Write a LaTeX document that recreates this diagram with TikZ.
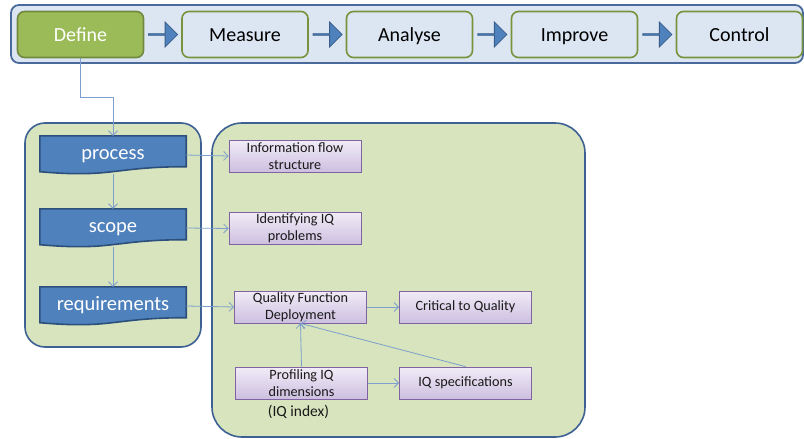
\documentclass[tikz,border=0pt]{standalone}
\usepackage{fontspec}
\setmainfont{Carlito}
\usetikzlibrary{calc,arrows.meta,shapes.arrows}

\definecolor{barfill}{HTML}{DCE6F2}
\definecolor{barline}{HTML}{4A6A9B}
\definecolor{defgreen}{HTML}{9BBB59}
\definecolor{defline}{HTML}{71893F}
\definecolor{stageline}{HTML}{77933C}
\definecolor{docblue}{HTML}{4F81BD}
\definecolor{docline}{HTML}{2C4F7C}
\definecolor{arrline}{HTML}{385D8A}
\definecolor{panelfill}{HTML}{D7E4BD}
\definecolor{panelline}{HTML}{3E6193}
\definecolor{lilactop}{HTML}{F1ECF7}
\definecolor{lilacbot}{HTML}{CDBFE0}
\definecolor{lilacline}{HTML}{8064A2}
\definecolor{linkblue}{HTML}{7C9FCB}

% document-like flowchart box: frame node, wavy fill, then the label
\newcommand\docbox[3]{%
  \node[docframe] (#1) at (#2) {};
  \filldraw[docpath] (#1.north west) -- (#1.north east) -- ([yshift=7.5pt]#1.south east)
    .. controls ([yshift=7.5pt]#1.south) and ([yshift=-4pt]#1.south) .. ([yshift=2.5pt]#1.south west) -- cycle;
  \node[doctext] (#1-label) at (#1.center) {#3};}

\begin{document}
\begin{tikzpicture}[x=1pt, y=-1pt,
    stage/.style={draw=stageline, line width=1.6pt, fill=barfill, rounded corners=7pt,
                  minimum width=126pt, minimum height=46pt, text height=18pt, text depth=3.6pt,
                  font=\fontsize{20}{24}\selectfont},
    firststage/.style={stage, fill=defgreen, draw=defline, text=white},
    blockarrow/.style={single arrow, fill=docblue, draw=arrline, line width=0.8pt,
                  minimum height=29pt, minimum width=25pt, inner sep=0pt, single arrow head extend=6pt},
    panel/.style={draw=panelline, line width=1.6pt, fill=panelfill},
    docframe/.style={minimum width=146pt, minimum height=38pt, inner sep=0pt},
    docpath/.style={fill=docblue, draw=docline, line width=1.6pt},
    doctext/.style={text=white, font=\fontsize{20.5}{24}\selectfont, inner sep=0pt,
                  text height=12pt, text depth=4pt},
    task/.style={draw=lilacline, line width=0.8pt, top color=lilactop, bottom color=lilacbot,
                 minimum width=132pt, minimum height=32pt, inner sep=1pt, align=center,
                 text=black!90, font=\fontsize{14.2}{16.7}\selectfont},
    link/.style={draw=linkblue, line width=0.8pt, -{Straight Barb[length=4.5pt,width=9pt]}}]
  \useasboundingbox (0,0) rectangle (804,439);

  % DMAIC bar
  \draw[draw=barline, fill=barfill, line width=1.8pt, rounded corners=8pt] (11,5) rectangle (803,63);
  \node[firststage] (define)  at (80.5,34.5)  {Define};
  \node[stage]      (measure) at (245,34.5)   {Measure};
  \node[stage]      (analyse) at (409.5,34.5) {Analyse};
  \node[stage]      (improve) at (574.5,34.5) {Improve};
  \node[stage]      (control) at (739.5,34.5) {Control};
  \node[blockarrow] (a1) at ($(define.east)!.5!(measure.west)$)  {};
  \node[blockarrow] (a2) at ($(measure.east)!.5!(analyse.west)$) {};
  \node[blockarrow] (a3) at ($(analyse.east)!.5!(improve.west)$) {};
  \node[blockarrow] (a4) at ($(improve.east)!.5!(control.west)$) {};

  % Define phase panels
  \draw[panel, rounded corners=20pt] (25,123) rectangle (201,347);
  \draw[panel, rounded corners=30pt] (212,123) rectangle (585,437);

  \docbox{process}{113,155}{process}
  \docbox{scope}{113,228}{scope}
  \docbox{req}{113,306}{requirements}

  \node[task] (flow)  at (295,156)   {Information flow\\structure};
  \node[task] (probs) at (295,228.5) {Identifying IQ\\problems};
  \node[task] (qfd)   at (300.5,307) {Quality Function\\Deployment};
  \node[task] (ctq)   at (465.5,307) {Critical to Quality};
  \node[task] (prof)  at (301.5,383) {Profiling IQ\\dimensions};
  \node[task] (spec)  at (465.5,383) {IQ specifications};
  \node[font=\fontsize{15.5}{18}\selectfont, text=black!90] (index) at (298.5,412) {(IQ index)};

  \draw[link] (define.south) -- ++(0,39) -| (process.north);
  \draw[link] (process.south) -- (scope.north); \draw[link] (scope.south) -- (req.north);
  \draw[link] (process.east) -- (flow.west);
  \draw[link] (scope.east) -- (probs.west);
  \draw[link] (req.east) -- (qfd.west);
  \draw[link] (qfd.east) -- (ctq.west);
  \draw[link] (prof.east) -- (spec.west);
  \draw[link] (prof.north) -- (qfd.south);
  \draw[link] (spec.north) -- (qfd.south);
\end{tikzpicture}
\end{document}
